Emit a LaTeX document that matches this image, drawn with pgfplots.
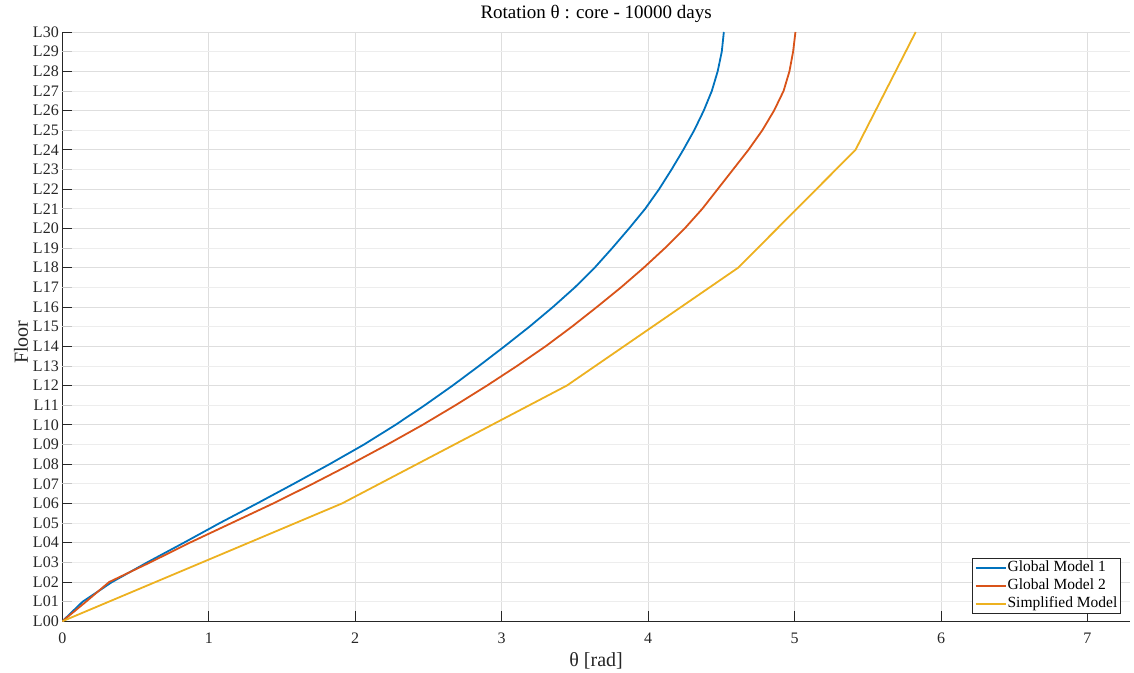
\documentclass[border=0pt]{standalone}
\usepackage{fontspec}
\setmainfont{Liberation Serif}
\usepackage{pgfplots}
\pgfplotsset{compat=1.18}
\definecolor{mblue}{rgb}{0,0.447,0.741}
\definecolor{mred}{rgb}{0.850,0.325,0.098}
\definecolor{myellow}{rgb}{0.929,0.694,0.125}
\definecolor{axgray}{HTML}{262626}
\definecolor{gridmaj}{HTML}{DEDEDE}
\definecolor{gridmin}{HTML}{EDEDED}
\begin{document}
\begin{tikzpicture}
\begin{axis}[
  at={(0pt,0pt)}, anchor=south west,
  scale only axis, width=1067.7pt, height=589.3pt,
  xmin=0, xmax=7.29, ymin=0, ymax=30,
  axis lines*=left,
  axis line style={axgray, line width=0.8pt, -},
  tick align=inside, major tick length=10pt,
  tick style={axgray, line width=0.8pt},
  xtick={0,1,2,3,4,5,6,7},
  ytick={0,2,4,6,8,10,12,14,16,18,20,22,24,26,28,30},
  yticklabels={L00,L02,L04,L06,L08,L10,L12,L14,L16,L18,L20,L22,L24,L26,L28,L30},
  extra y ticks={1,3,5,7,9,11,13,15,17,19,21,23,25,27,29},
  extra y tick labels={L01,L03,L05,L07,L09,L11,L13,L15,L17,L19,L21,L23,L25,L27,L29},
  extra y tick style={grid style={gridmin, line width=0.8pt}, tick style={gray!45, line width=0.8pt}},
  grid=major, grid style={gridmaj, line width=0.8pt},
  /pgf/number format/assume math mode=true,
  ticklabel style={font=\fontsize{16}{19}\selectfont, text=axgray},
  xticklabel style={anchor=base, yshift=-21.7pt},
  title={Rotation θ : core - 10000 days},
  title style={at={(0.5,1)}, anchor=base, yshift=7pt, font=\fontsize{19}{23}\selectfont, text=black},
  xlabel={θ [rad]},
  xlabel style={at={(rel axis cs:0.5,0)}, anchor=base, yshift=-45.5pt, font=\fontsize{20}{24}\selectfont, text=axgray},
  legend style={at={(0.9913,0.0124)}, anchor=south east, draw=axgray, line width=0.6pt, fill=white,
    inner xsep=2pt, inner ysep=1.5pt, font=\fontsize{15.5}{18}\selectfont, row sep=1.5pt,
    nodes={inner sep=1pt, text height=11pt, text depth=3.5pt, text=black}},
  legend cell align=left,
  legend image code/.code={\draw[#1] (0pt,0pt) -- (30pt,0pt);},
]
\addplot[mblue, line width=1.8pt] coordinates {
(0,0) (0.139,1) (0.34,2) (0.58,3) (0.83,4) (1.075,5) (1.33,6) (1.58,7) (1.825,8) (2.06,9) (2.275,10) (2.475,11) (2.665,12) (2.845,13) (3.02,14) (3.19,15) (3.35,16) (3.50,17) (3.635,18) (3.755,19) (3.87,20) (3.98,21) (4.075,22) (4.16,23) (4.24,24) (4.315,25) (4.38,26) (4.435,27) (4.475,28) (4.503,29) (4.517,30)
};
\addlegendentry{Global Model 1}
\addplot[mred, line width=1.8pt] coordinates {
(0,0) (0.162,1) (0.32,2) (0.60,3) (0.87,4) (1.155,5) (1.44,6) (1.71,7) (1.97,8) (2.22,9) (2.46,10) (2.685,11) (2.90,12) (3.105,13) (3.30,14) (3.48,15) (3.65,16) (3.815,17) (3.97,18) (4.115,19) (4.25,20) (4.37,21) (4.475,22) (4.58,23) (4.685,24) (4.78,25) (4.86,26) (4.925,27) (4.965,28) (4.99,29) (5.006,30)
};
\addlegendentry{Global Model 2}
\addplot[myellow, line width=1.8pt] coordinates {
(0,0) (1.91,6) (3.445,12) (4.615,18) (5.416,24) (5.827,30)
};
\addlegendentry{Simplified Model}
\node[anchor=base east, font=\fontsize{15}{18}\selectfont, text=axgray] at ([xshift=-2pt,yshift=-46.4pt]rel axis cs:1,0) {×10\textsuperscript{-3}};
\end{axis}
\node[rotate=90, anchor=base, font=\fontsize{20}{24}\selectfont, text=axgray] at (-34.3pt,279pt) {Floor};
\pgfresetboundingbox
\path (-62.3pt,-50.7pt) rectangle (1071.7pt,621.3pt);
\end{tikzpicture}
\end{document}
